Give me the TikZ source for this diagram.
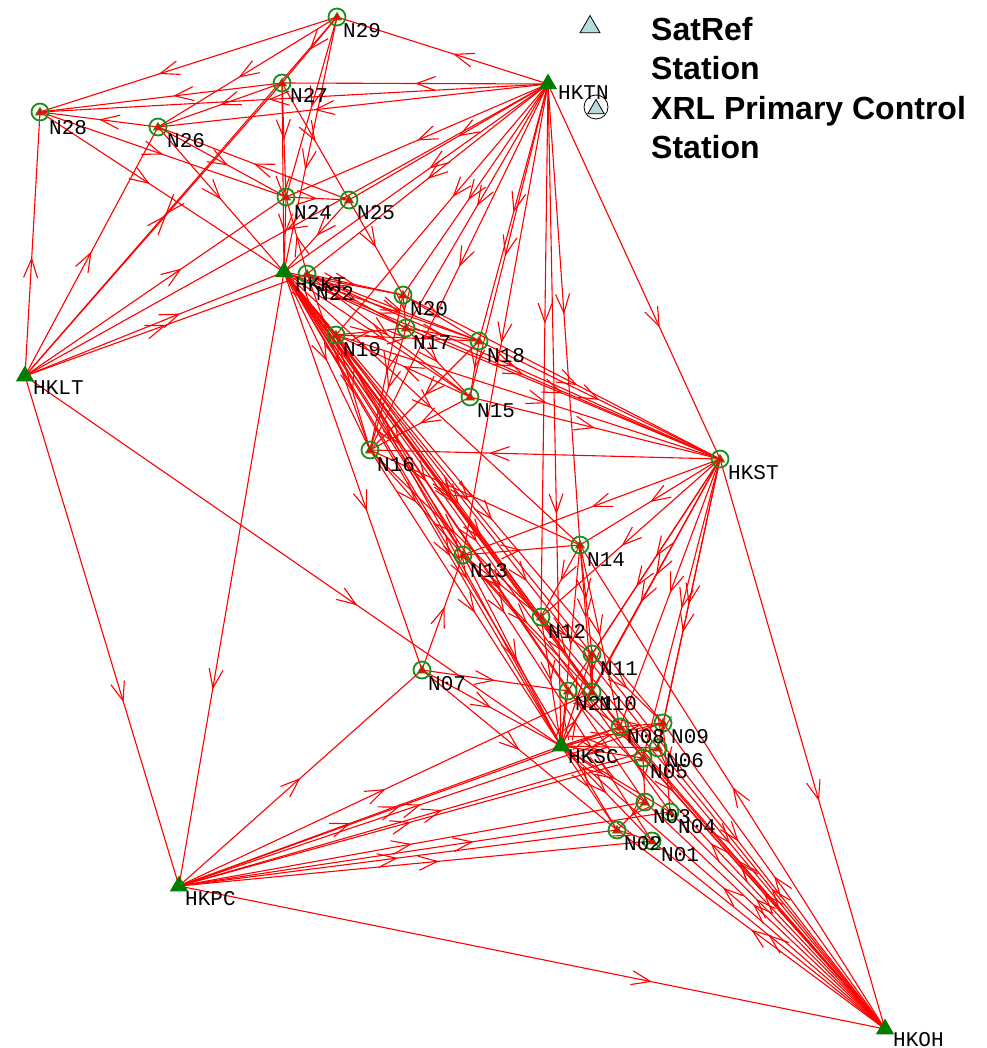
\documentclass[tikz,border=0pt]{standalone}
\usepackage{fontspec}
\newfontfamily\labfont{Liberation Mono}
\newfontfamily\legfont{Liberation Sans}
\usepackage{tikz}
\usetikzlibrary{arrows.meta}
\usetikzlibrary{shapes.geometric}
\usetikzlibrary{decorations.markings}
\usetikzlibrary{backgrounds}
\definecolor{stgreen}{RGB}{0,125,0}
\definecolor{ringgreen}{RGB}{25,145,25}
\definecolor{legblue}{RGB}{180,220,220}
\tikzset{
st/.style={
  regular polygon,regular polygon sides=3,
  inner sep=0pt,
  minimum size=21pt,
  fill=stgreen
  },
cp/.style={
  circle,
  inner sep=0pt,
  minimum size=17pt,
  line width=1.8pt,
  draw=ringgreen,
  path picture={\draw[ringgreen,fill=red,line width=.7pt]
    ([shift={(0pt,4.5pt)}]path picture bounding box.center) -- ++(-4.5pt,-7.5pt) -- ++(9pt,0pt) -- cycle;}
  },
lab/.style={
  anchor=base west,
  inner sep=0pt,
  font=\labfont\fontsize{21}{21}\selectfont
  },
leg/.style={
  anchor=north west,
  align=left,
  inner sep=0pt,
  font=\legfont\bfseries\fontsize{32}{39.5}\selectfont
  },
ln/.style={
  draw=red,line width=1.1pt,
  postaction={decorate},
  decoration={markings,mark=at position #1 with {\arrow[red]{Straight Barb[length=19pt,width=14pt]}}}
  },
ln/.default=.5
}

\begin{document}
\begin{tikzpicture}[x=1pt,y=-1pt]
        \useasboundingbox (0,0) rectangle (986,1048);
        % stations
        \node[st] at (548,84) (HKTN) {};
        \node[st] at (284,272) (HKKT) {};
        \node[st] at (25,376) (HKLT) {};
        \node[st] at (179,886) (HKPC) {};
        \node[st] at (561,746) (HKSC) {};
        \node[st] at (885,1029) (HKOH) {};
        \node[cp] at (720,459) (HKST) {};
        \node[cp] at (337,17) (N29) {};
        \node[cp] at (282,83) (N27) {};
        \node[cp] at (40,112) (N28) {};
        \node[cp] at (158,127) (N26) {};
        \node[cp] at (286,197) (N24) {};
        \node[cp] at (349,200) (N25) {};
        \node[cp] at (307,274) (N22) {};
        \node[cp] at (403,295) (N20) {};
        \node[cp] at (336,335) (N19) {};
        \node[cp] at (406,328) (N17) {};
        \node[cp] at (479,341) (N18) {};
        \node[cp] at (470,397) (N15) {};
        \node[cp] at (370,450) (N16) {};
        \node[cp] at (463,555) (N13) {};
        \node[cp] at (580,545) (N14) {};
        \node[cp] at (541,617) (N12) {};
        \node[cp] at (592,654) (N11) {};
        \node[cp] at (422,670) (N07) {};
        \node[cp] at (568,691) (N21) {};
        \node[cp] at (592,692) (N10) {};
        \node[cp] at (620,727) (N08) {};
        \node[cp] at (663,723) (N09) {};
        \node[cp] at (658,748) (N06) {};
        \node[cp] at (643,758) (N05) {};
        \node[cp] at (645,802) (N03) {};
        \node[cp] at (670,812) (N04) {};
        \node[cp] at (617,830) (N02) {};
        \node[cp] at (652,841) (N01) {};
        % labels
        \node[lab] at (558,100) (HKTNl) {HKTN};
        \node[lab] at (295,291) (HKKTl) {HKKT};
        \node[lab] at (33,394) (HKLTl) {HKLT};
        \node[lab] at (185,905) (HKPCl) {HKPC};
        \node[lab] at (568,763) (HKSCl) {HKSC};
        \node[lab] at (893,1046) (HKOHl) {HKOH};
        \node[lab] at (728,479) (HKSTl) {HKST};
        \node[lab] at (343,38) (N29l) {N29};
        \node[lab] at (290,103) (N27l) {N27};
        \node[lab] at (49,135) (N28l) {N28};
        \node[lab] at (167,148) (N26l) {N26};
        \node[lab] at (294,220) (N24l) {N24};
        \node[lab] at (357,220) (N25l) {N25};
        \node[lab] at (316,300) (N22l) {N22};
        \node[lab] at (410,316) (N20l) {N20};
        \node[lab] at (343,356) (N19l) {N19};
        \node[lab] at (413,349) (N17l) {N17};
        \node[lab] at (487,362) (N18l) {N18};
        \node[lab] at (477,417) (N15l) {N15};
        \node[lab] at (377,471) (N16l) {N16};
        \node[lab] at (470,577) (N13l) {N13};
        \node[lab] at (587,566) (N14l) {N14};
        \node[lab] at (548,638) (N12l) {N12};
        \node[lab] at (600,675) (N11l) {N11};
        \node[lab] at (428,690) (N07l) {N07};
        \node[lab] at (575,710) (N21l) {N21};
        \node[lab] at (599,710) (N10l) {N10};
        \node[lab] at (627,743) (N08l) {N08};
        \node[lab] at (671,743) (N09l) {N09};
        \node[lab] at (666,767) (N06l) {N06};
        \node[lab] at (650,778) (N05l) {N05};
        \node[lab] at (653,823) (N03l) {N03};
        \node[lab] at (678,833) (N04l) {N04};
        \node[lab] at (624,850) (N02l) {N02};
        \node[lab] at (661,861) (N01l) {N01};
        % legend
        \node[st,minimum size=23pt,fill=legblue,draw=black,line width=.8pt] at (590,27) (legA) {};
        \node[circle,draw=black,line width=.8pt,minimum size=24pt,inner sep=0pt] at (596,107) (legB) {};
        \node[st,minimum size=19pt,fill=legblue,draw=black,line width=.8pt] at (596,109) (legBt) {};
        \node[leg] at (651,17) (legAt) {SatRef\\Station};
        \node[leg] at (651,96) (legBl) {XRL Primary Control\\Station};
        \begin{scope}[on background layer]
        \path
        (HKTN.center) edge [ln=.45] (N29.center)
        (N29.center) edge [ln=.6] (N28.center)
        (N29.center) edge [ln] (N27.center)
        (N29.center) edge [ln=.55] (N26.center)
        (N29.center) edge [ln] (N24.center)
        (N29.center) edge [ln=.6] (HKKT.center)
        (N29.center) edge [ln=.55] (HKLT.center)
        (HKTN.center) edge [ln] (N27.center)
        (HKTN.center) edge [ln=.55] (N28.center)
        (N27.center) edge [ln=.45] (N28.center)
        (N26.center) edge [ln] (N28.center)
        (HKLT.center) edge [ln=.45] (N28.center)
        (N28.center) edge [ln=.45] (HKKT.center)
        (N28.center) edge [ln] (N24.center)
        (N27.center) edge [ln] (N26.center)
        (HKTN.center) edge [ln=.6] (N26.center)
        (N26.center) edge [ln] (HKKT.center)
        (HKLT.center) edge [ln] (N26.center)
        (N26.center) edge [ln=.55] (N24.center)
        (N27.center) edge [ln] (N24.center)
        (N27.center) edge [ln=.6] (HKKT.center)
        (N27.center) edge [ln] (N25.center)
        (HKLT.center) edge [ln=.55] (N27.center)
        (HKTN.center) edge [ln] (N24.center)
        (HKTN.center) edge [ln=.45] (N25.center)
        (N24.center) edge [ln] (N25.center)
        (N24.center) edge [ln] (HKKT.center)
        (HKLT.center) edge [ln=.6] (N24.center)
        (N25.center) edge [ln] (HKKT.center)
        (N25.center) edge [ln] (N20.center)
        (N25.center) edge [ln] (N26.center)
        (HKTN.center) edge [ln=.45] (HKKT.center)
        (HKTN.center) edge [ln] (N22.center)
        (HKTN.center) edge [ln=.55] (N20.center)
        (HKTN.center) edge [ln=.45] (N19.center)
        (HKTN.center) edge [ln] (N17.center)
        (HKTN.center) edge [ln] (N18.center)
        (HKTN.center) edge [ln=.55] (N15.center)
        (HKTN.center) edge [ln] (N16.center)
        (HKTN.center) edge [ln=.65] (HKST.center)
        (HKTN.center) edge [ln=.65] (HKSC.center)
        (HKTN.center) edge [ln=.55] (N13.center)
        (HKTN.center) edge [ln] (N14.center)
        (HKTN.center) edge [ln=.45] (N12.center)
        (HKTN.center) edge [ln] (HKLT.center)
        (HKLT.center) edge [ln=.6] (HKKT.center)
        (HKLT.center) edge [ln] (N22.center)
        (N22.center) edge [ln] (N24.center)
        (HKKT.center) edge [ln] (N20.center)
        (HKKT.center) edge [ln] (N17.center)
        (HKKT.center) edge [ln=.6] (N18.center)
        (HKKT.center) edge [ln] (N19.center)
        (HKKT.center) edge [ln=.55] (N15.center)
        (HKKT.center) edge [ln] (N16.center)
        (HKKT.center) edge [ln=.55] (HKST.center)
        (HKKT.center) edge [ln=.6] (N13.center)
        (HKKT.center) edge [ln] (N14.center)
        (HKKT.center) edge [ln=.65] (N12.center)
        (HKKT.center) edge [ln=.6] (N11.center)
        (HKKT.center) edge [ln] (N21.center)
        (HKKT.center) edge [ln=.55] (N10.center)
        (HKKT.center) edge [ln=.6] (HKSC.center)
        (HKKT.center) edge [ln] (N08.center)
        (HKKT.center) edge [ln=.55] (N09.center)
        (HKKT.center) edge [ln=.65] (N06.center)
        (HKKT.center) edge [ln=.55] (N05.center)
        (HKKT.center) edge [ln=.6] (N03.center)
        (HKKT.center) edge [ln] (N04.center)
        (HKKT.center) edge [ln=.55] (N02.center)
        (HKKT.center) edge [ln=.6] (N01.center)
        (HKKT.center) edge [ln=.6] (N07.center)
        (HKKT.center) edge [ln=.68] (HKPC.center)
        (N22.center) edge [ln] (HKST.center)
        (N22.center) edge [ln] (N20.center)
        (N22.center) edge [ln] (N17.center)
        (N22.center) edge [ln=.55] (N18.center)
        (N22.center) edge [ln] (N15.center)
        (N22.center) edge [ln] (N16.center)
        (N19.center) edge [ln=.55] (HKST.center)
        (N19.center) edge [ln] (N17.center)
        (N19.center) edge [ln] (N18.center)
        (N19.center) edge [ln] (N16.center)
        (N19.center) edge [ln] (N13.center)
        (N19.center) edge [ln=.55] (HKSC.center)
        (N19.center) edge [ln=.6] (N12.center)
        (N20.center) edge [ln=.55] (HKST.center)
        (N20.center) edge [ln] (N17.center)
        (N20.center) edge [ln] (N18.center)
        (N20.center) edge [ln] (N16.center)
        (N17.center) edge [ln] (HKST.center)
        (N17.center) edge [ln] (N18.center)
        (N17.center) edge [ln] (N16.center)
        (N17.center) edge [ln] (N15.center)
        (N18.center) edge [ln] (HKST.center)
        (N18.center) edge [ln] (N15.center)
        (N18.center) edge [ln] (N16.center)
        (N15.center) edge [ln] (HKST.center)
        (N15.center) edge [ln] (N16.center)
        (N15.center) edge [ln] (N19.center)
        (HKST.center) edge [ln=.66] (N16.center)
        (N16.center) edge [ln] (N13.center)
        (N16.center) edge [ln] (N12.center)
        (N16.center) edge [ln] (N14.center)
        (N16.center) edge [ln=.55] (HKSC.center)
        (HKST.center) edge [ln] (N13.center)
        (HKST.center) edge [ln] (N14.center)
        (HKST.center) edge [ln=.55] (N12.center)
        (HKST.center) edge [ln] (N11.center)
        (HKST.center) edge [ln=.55] (N21.center)
        (HKST.center) edge [ln] (N10.center)
        (HKST.center) edge [ln] (HKSC.center)
        (HKST.center) edge [ln] (N08.center)
        (HKST.center) edge [ln=.55] (N09.center)
        (HKST.center) edge [ln=.6] (N06.center)
        (HKST.center) edge [ln] (N05.center)
        (HKST.center) edge [ln=.6] (HKOH.center)
        (N13.center) edge [ln] (N14.center)
        (N13.center) edge [ln=.55] (HKSC.center)
        (N13.center) edge [ln] (N12.center)
        (N13.center) edge [ln] (N10.center)
        (N13.center) edge [ln] (HKOH.center)
        (N14.center) edge [ln] (HKSC.center)
        (N14.center) edge [ln] (N11.center)
        (N14.center) edge [ln] (N10.center)
        (N14.center) edge [ln] (N12.center)
        (N14.center) edge [ln] (N08.center)
        (N12.center) edge [ln] (HKSC.center)
        (N12.center) edge [ln] (N11.center)
        (N12.center) edge [ln] (N10.center)
        (N12.center) edge [ln=.55] (HKOH.center)
        (N11.center) edge [ln] (HKSC.center)
        (N11.center) edge [ln] (HKOH.center)
        (N11.center) edge [ln] (N09.center)
        (HKPC.center) edge [ln] (N07.center)
        (N07.center) edge [ln=.55] (N13.center)
        (N07.center) edge [ln] (HKSC.center)
        (N07.center) edge [ln] (N21.center)
        (N07.center) edge [ln] (N02.center)
        (HKLT.center) edge [ln=.64] (HKPC.center)
        (HKLT.center) edge [ln=.62] (HKSC.center)
        (HKPC.center) edge [ln=.67] (HKOH.center)
        (HKPC.center) edge [ln=.45] (HKSC.center)
        (HKPC.center) edge [ln] (N08.center)
        (HKPC.center) edge [ln] (N09.center)
        (HKPC.center) edge [ln=.55] (N06.center)
        (HKPC.center) edge [ln] (N05.center)
        (HKPC.center) edge [ln] (N03.center)
        (HKPC.center) edge [ln=.6] (N04.center)
        (HKPC.center) edge [ln] (N02.center)
        (HKPC.center) edge [ln=.55] (N01.center)
        (HKPC.center) edge [ln] (N10.center)
        (HKOH.center) edge [ln] (HKSC.center)
        (HKOH.center) edge [ln] (N01.center)
        (HKOH.center) edge [ln] (N02.center)
        (HKOH.center) edge [ln=.55] (N03.center)
        (HKOH.center) edge [ln=.6] (N04.center)
        (HKOH.center) edge [ln] (N05.center)
        (HKOH.center) edge [ln] (N06.center)
        (HKOH.center) edge [ln=.55] (N08.center)
        (HKOH.center) edge [ln] (N09.center)
        (HKOH.center) edge [ln] (N10.center)
        (HKOH.center) edge [ln=.55] (N21.center)
        (HKOH.center) edge [ln] (N14.center)
        (HKSC.center) edge [ln] (N21.center)
        (HKSC.center) edge [ln] (N10.center)
        (HKSC.center) edge [ln] (N08.center)
        (HKSC.center) edge [ln] (N09.center)
        (HKSC.center) edge [ln] (N06.center)
        (HKSC.center) edge [ln] (N05.center)
        (HKSC.center) edge [ln] (N03.center)
        (HKSC.center) edge [ln] (N04.center)
        (HKSC.center) edge [ln] (N02.center)
        (HKSC.center) edge [ln] (N01.center)
        (N08.center) edge [ln] (N09.center)
        (N08.center) edge [ln] (N05.center)
        (N09.center) edge [ln] (N06.center)
        (N05.center) edge [ln] (N03.center)
        (N03.center) edge [ln] (N02.center)
        (N02.center) edge [ln] (N01.center)
        (N09.center) edge [ln] (N04.center)
        (N21.center) edge [ln] (N08.center)
        (N11.center) edge [ln] (N10.center)
        ;
        \end{scope}
    \end{tikzpicture}
\end{document}
